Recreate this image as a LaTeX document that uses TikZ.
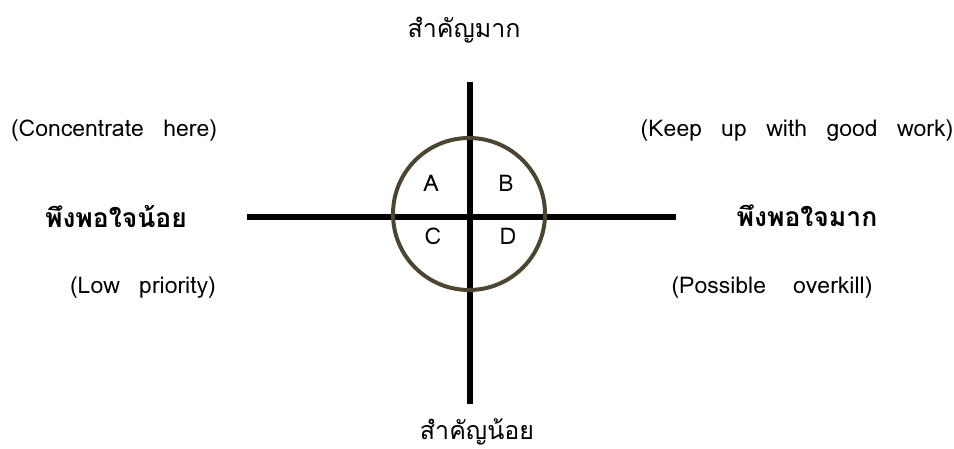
\documentclass[tikz,border=0pt]{standalone}
\usepackage{fontspec}
\newfontfamily\thaifont[Script=Thai]{Loma}
\setmainfont{Loma}
\definecolor{ringcol}{HTML}{4B4532}
\begin{document}
\begin{tikzpicture}[x=1pt,y=-1pt,
  axis/.style={line width=5.5pt,black},
  ring/.style={draw=ringcol,line width=4pt},
  thlabel/.style={font=\thaifont\fontsize{25}{28}\selectfont},
  thbold/.style={font=\thaifont\bfseries\fontsize{26.5}{30}\selectfont},
  note/.style={font=\fontsize{23}{26}\selectfont},
  quad/.style={font=\fontsize{23}{26}\selectfont}]
\useasboundingbox (0,0) rectangle (954,449);
\coordinate (vt) at (470,82);
\coordinate (vb) at (470,404);
\coordinate (hl) at (247,217);
\coordinate (hr) at (676,217);
\draw[axis] (vt) -- (vb);
\draw[axis] (hl) -- (hr);
\node[ring,circle,minimum size=152pt,inner sep=0pt] (c) at (469,214) {};
\node[quad] (A) at (431,183) {A};
\node[quad] (B) at (506,183) {B};
\node[quad] (C) at (433,236) {C};
\node[quad] (D) at (508,236) {D};
\node[thlabel] (top) at (464,30) {สำคัญมาก};
\node[thlabel] (bot) at (477,432) {สำคัญน้อย};
\node[thbold] (left) at (116,216) {พึงพอใจน้อย};
\node[thbold] (right) at (807,216) {พึงพอใจมาก};
\node[note] (n1) at (114,131) {(Concentrate\ \ \,here)};
\node[note] (n2) at (797,131) {(Keep\ \ \,up\ \ \,with\ \ \,good\ \ \,work)};
\node[note] (n3) at (143,288) {(Low\ \ \,priority)};
\node[note] (n4) at (772,288) {(Possible\ \ \ \,overkill)};
\end{tikzpicture}
\end{document}
